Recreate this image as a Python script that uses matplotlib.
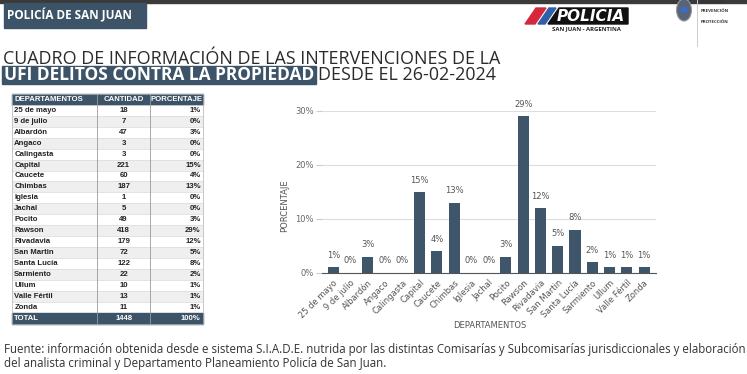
import matplotlib
matplotlib.use("Agg")
import matplotlib.pyplot as plt
from matplotlib.patches import Rectangle, Polygon, Ellipse

# ---------------- data ----------------
departamentos = ["25 de mayo", "9 de julio", "Albardón", "Angaco", "Calingasta",
                 "Capital", "Caucete", "Chimbas", "Iglesia", "Jachal", "Pocito",
                 "Rawson", "Rivadavia", "San Martin", "Santa Lucía", "Sarmiento",
                 "Ullum", "Valle Fértil", "Zonda"]
cantidad = [18, 7, 47, 3, 3, 221, 60, 187, 1, 5, 49, 418, 179, 72, 122, 22, 10, 13, 11]
porcentaje = [1, 0, 3, 0, 0, 15, 4, 13, 0, 0, 3, 29, 12, 5, 8, 2, 1, 1, 1]
total_cantidad = 1448
total_porcentaje = 100
table_headers = ["DEPARTAMENTOS", "CANTIDAD", "PORCENTAJE"]
y_ticks = [0, 10, 20, 30]

W, H = 747, 374
DARK = "#3d5368"
BAR = "#3f5569"

fig = plt.figure(figsize=(W / 100, H / 100), dpi=100)
fig.patch.set_facecolor("white")
bg = fig.add_axes([0, 0, 1, 1])
bg.set_xlim(0, W)
bg.set_ylim(H, 0)
bg.axis("off")
renderer = fig.canvas.get_renderer()


def right_edge(t):
    bb = t.get_window_extent(renderer=renderer)
    return bb.x1 * W / fig.bbox.width


# ---------------- header ----------------
bg.add_patch(Rectangle((0, 0), W, 3, color="#3a3a3a"))
bg.add_patch(Rectangle((4, 3), 142, 25, color=DARK))
bg.text(7, 15.5, "POLICÍA DE SAN JUAN", color="white", fontsize=8.5, fontweight="bold",
        family="Open Sans", va="center", ha="left")

# logo
bg.add_patch(Polygon([(525, 24), (536, 8), (546, 8), (535, 24)], color="#d6283c"))
bg.add_patch(Polygon([(538, 24), (549, 8), (556, 8), (545, 24)], color="#2f5fa8"))
bg.add_patch(Polygon([(548, 24), (559, 8), (628, 8), (628, 24)], color="#111111"))
bg.text(591, 16, "POLICIA", color="white", fontsize=11, fontweight="bold", style="italic",
        family="DejaVu Sans", ha="center", va="center")
bg.text(586, 28.5, "SAN JUAN - ARGENTINA", color="#222222", fontsize=4.3, fontweight="bold",
        family="Open Sans", ha="center", va="center")
bg.add_patch(Ellipse((684, 10), 15, 22, facecolor="#5a6478", edgecolor="#999999", lw=0.8))
bg.add_patch(Ellipse((684, 10), 7, 6, facecolor="#3c6bd0", edgecolor="none"))
bg.plot([697, 697], [0, 46], color="#cccccc", lw=0.7)
bg.text(701, 1.5, "SEGURIDAD", fontsize=3.2, fontweight="bold", color="#333333", va="center",
        family="Open Sans")
bg.text(701, 11, "PREVENCIÓN", fontsize=3.2, fontweight="bold", color="#333333", va="center",
        family="Open Sans")
bg.text(701, 22, "PROTECCIÓN", fontsize=3.2, fontweight="bold", color="#333333", va="center",
        family="Open Sans")

# ---------------- title ----------------
bg.text(3, 58.5, "CUADRO DE INFORMACIÓN DE LAS INTERVENCIONES DE LA", fontsize=12.85,
        color="#2b2b2b", family="Open Sans", va="center", ha="left")
t_bold = bg.text(4, 75, "UFI DELITOS CONTRA LA PROPIEDAD", fontsize=12.5, color="white",
                 fontweight="bold", family="Open Sans", va="center", ha="left", zorder=3)
xr = right_edge(t_bold)
bg.add_patch(Rectangle((2, 66.3), xr, 17.6, color=DARK, zorder=2))
bg.text(xr + 4, 75, "DESDE EL 26-02-2024", fontsize=12.85, color="#2b2b2b",
        family="Open Sans", va="center", ha="left")

# ---------------- table ----------------
tx0, tx1, tx2, tx3 = 12.3, 97.3, 150.0, 202.7
ty0 = 94.0
rh = 10.93
tfont = dict(family="Liberation Sans", fontsize=5.6, fontweight="bold")
bg.add_patch(Rectangle((tx0, ty0), tx3 - tx0, rh, color=DARK))
bg.text(tx0 + 2, ty0 + rh / 2, table_headers[0], color="white", va="center", ha="left", **tfont)
bg.text((tx1 + tx2) / 2, ty0 + rh / 2, table_headers[1], color="white", va="center", ha="center", **tfont)
bg.text((tx2 + tx3) / 2, ty0 + rh / 2, table_headers[2], color="white", va="center", ha="center", **tfont)
for i, (d, c, p) in enumerate(zip(departamentos, cantidad, porcentaje)):
    y = ty0 + rh * (i + 1)
    face = "#efefef" if i % 2 == 1 else "white"
    bg.add_patch(Rectangle((tx0, y), tx3 - tx0, rh, facecolor=face, edgecolor="#d8d8d8", lw=0.4))
    yc = y + rh / 2
    bg.text(tx0 + 2, yc, d, color="#222222", va="center", ha="left", **tfont)
    bg.text((tx1 + tx2) / 2, yc, str(c), color="#222222", va="center", ha="center", **tfont)
    bg.text(tx3 - 2, yc, f"{p}%", color="#222222", va="center", ha="right", **tfont)
yT = ty0 + rh * (len(departamentos) + 1)
bg.add_patch(Rectangle((tx0, yT), tx3 - tx0, rh, color=DARK))
bg.text(tx0 + 2, yT + rh / 2, "TOTAL", color="white", va="center", ha="left", **tfont)
bg.text((tx1 + tx2) / 2, yT + rh / 2, str(total_cantidad), color="white", va="center", ha="center", **tfont)
bg.text(tx3 - 2, yT + rh / 2, f"{total_porcentaje}%", color="white", va="center", ha="right", **tfont)
for xv in (tx1, tx2):
    bg.plot([xv, xv], [ty0, yT + rh], color="#9a9a9a", lw=0.6)
bg.add_patch(Rectangle((tx0, ty0), tx3 - tx0, yT + rh - ty0, fill=False, edgecolor="#bbbbbb", lw=0.5))

# ---------------- chart ----------------
ax_left, ax_right = 322.0, 656.0
ax_top, ax_bottom = 111.0, 272.7
ax = fig.add_axes([ax_left / W, (H - ax_bottom) / H, (ax_right - ax_left) / W,
                   (ax_bottom - ax_top) / H])
ax.patch.set_alpha(0)
xs = list(range(len(departamentos)))
ax.bar(xs, porcentaje, width=0.64, color=BAR, zorder=3)
ax.set_xlim(-0.65, len(departamentos) - 1 + 0.69)
ax.set_ylim(0, 30)
ax.set_yticks(y_ticks)
ax.set_yticklabels([f"{v}%" for v in y_ticks])
ax.yaxis.grid(True, color="#dddddd", lw=0.8, zorder=0)
for s in ("top", "right", "left"):
    ax.spines[s].set_visible(False)
ax.spines["bottom"].set_color("#555555")
ax.spines["bottom"].set_linewidth(0.8)
ax.tick_params(axis="y", length=4, color="#cccccc", labelsize=6, labelcolor="#666666", pad=2)
ax.set_xticks(xs)
ax.set_xticklabels(departamentos, rotation=45, ha="right", rotation_mode="anchor",
                   fontsize=6, color="#555555")
ax.tick_params(axis="x", length=0, pad=4)
for x, p in zip(xs, porcentaje):
    ax.annotate(f"{p}%", (x, p), xytext=(0, 8.5), textcoords="offset points",
                ha="center", va="center", fontsize=6, color="#555555", clip_on=False)

bg.text(285, 206, "PORCENTAJE", rotation=90, fontsize=6, color="#555555",
        ha="center", va="center")
bg.text(490, 325, "DEPARTAMENTOS", fontsize=6, color="#555555", ha="center", va="center")

# ---------------- footnote ----------------
bg.text(4, 349, "Fuente: información obtenida desde e sistema S.I.A.D.E. nutrida por las distintas "
        "Comisarías y Subcomisarías jurisdiccionales y elaboración",
        fontsize=8.3, color="#333333", family="Open Sans", va="center", ha="left")
bg.text(4, 363, "del analista criminal y Departamento Planeamiento Policía de San Juan.",
        fontsize=8.3, color="#333333", family="Open Sans", va="center", ha="left")

fig.savefig("out.png", dpi=100, facecolor="white")
